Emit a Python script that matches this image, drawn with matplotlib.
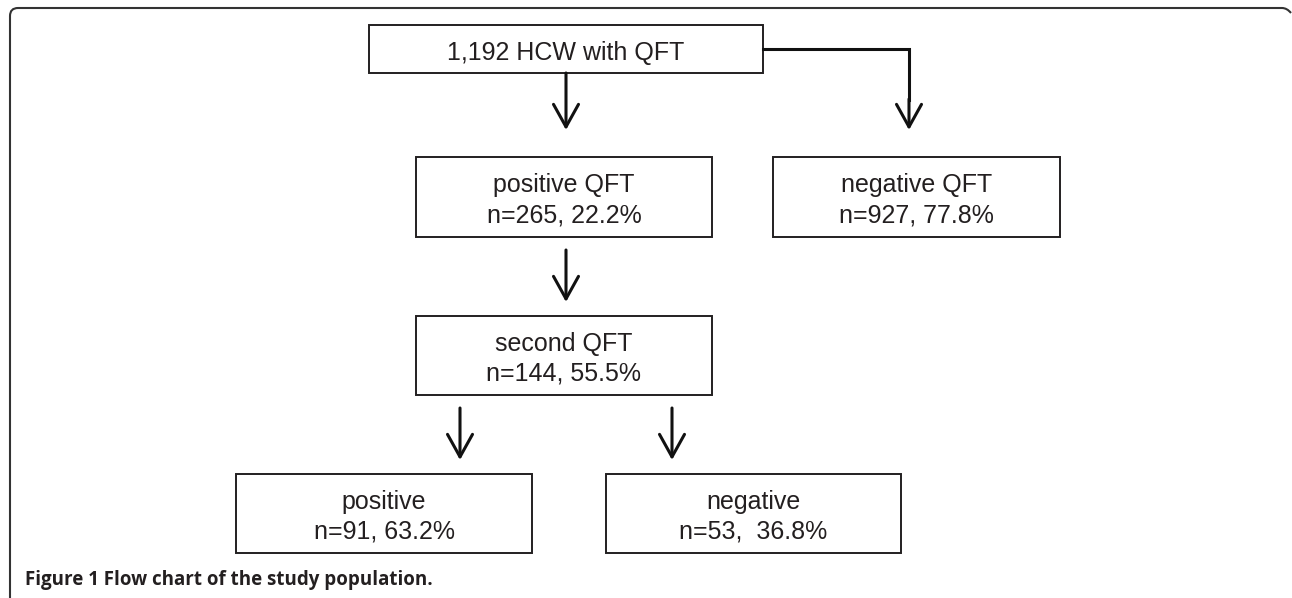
import matplotlib.pyplot as plt
from matplotlib.patches import Rectangle, FancyArrowPatch, PathPatch
from matplotlib.path import Path

# node texts
node_titles = ['1,192 HCW with QFT', 'positive QFT', 'negative QFT',
               'second QFT', 'positive', 'negative']
node_counts = [None, 'n=265, 22.2%', 'n=927, 77.8%',
               'n=144, 55.5%', 'n=91, 63.2%', 'n=53,  36.8%']
caption = 'Figure 1 Flow chart of the study population.'

# layout in pixels (x0, y0, x1, y1), y from the top
boxes = [(369, 25, 763, 73), (416, 157, 712, 237), (773, 157, 1060, 237),
         (416, 316, 712, 395), (236, 474, 532, 553), (606, 474, 901, 553)]

fig = plt.figure(figsize=(12.92, 5.98), dpi=100)
ax = fig.add_axes([0, 0, 1, 1])
ax.set_xlim(0, 1292)
ax.set_ylim(598, 0)
ax.axis('off')

box_font = ['Liberation Sans', 'DejaVu Sans']
ink = '#231f20'

for (x0, y0, x1, y1), title, count in zip(boxes, node_titles, node_counts):
    ax.add_patch(Rectangle((x0, y0), x1 - x0, y1 - y0, fill=False,
                           edgecolor=ink, lw=1.4))
    cx = (x0 + x1) / 2
    cy = (y0 + y1) / 2
    if count is None:
        ax.text(cx, cy + 11, title, ha='center', va='baseline',
                fontsize=18, family=box_font, color=ink)
    else:
        ax.text(cx, cy - 5, title, ha='center', va='baseline',
                fontsize=18, family=box_font, color=ink)
        ax.text(cx, cy + 25, count, ha='center', va='baseline',
                fontsize=18, family=box_font, color=ink)


def arrow(x, ya, yb):
    ax.add_patch(FancyArrowPatch((x, ya), (x, yb),
                                 arrowstyle='->,head_length=0.9,head_width=0.5',
                                 mutation_scale=18, lw=2.2, color='#111111',
                                 shrinkA=0, shrinkB=0))


arrow(566, 73, 130)
ax.plot([763, 909, 909], [49, 49, 100], color='#111111', lw=2.2,
        solid_joinstyle='miter')
arrow(909, 99, 130)
arrow(566, 250, 302)
arrow(460, 408, 460)
arrow(672, 408, 460)

# outer frame, open at right and bottom
verts = [(10, 598), (10, 16), (10, 8), (18, 8), (1282, 8),
         (1287, 8), (1291, 13)]
codes = [Path.MOVETO, Path.LINETO, Path.CURVE3, Path.CURVE3, Path.LINETO,
         Path.CURVE3, Path.CURVE3]
ax.add_patch(PathPatch(Path(verts, codes), fill=False, edgecolor='#333333',
                       lw=1.5))

ax.text(25, 585, caption, ha='left', va='baseline', fontsize=13.5,
        fontweight='bold', family=['Open Sans', 'DejaVu Sans'], color=ink)

fig.savefig('out.png', dpi=100)
